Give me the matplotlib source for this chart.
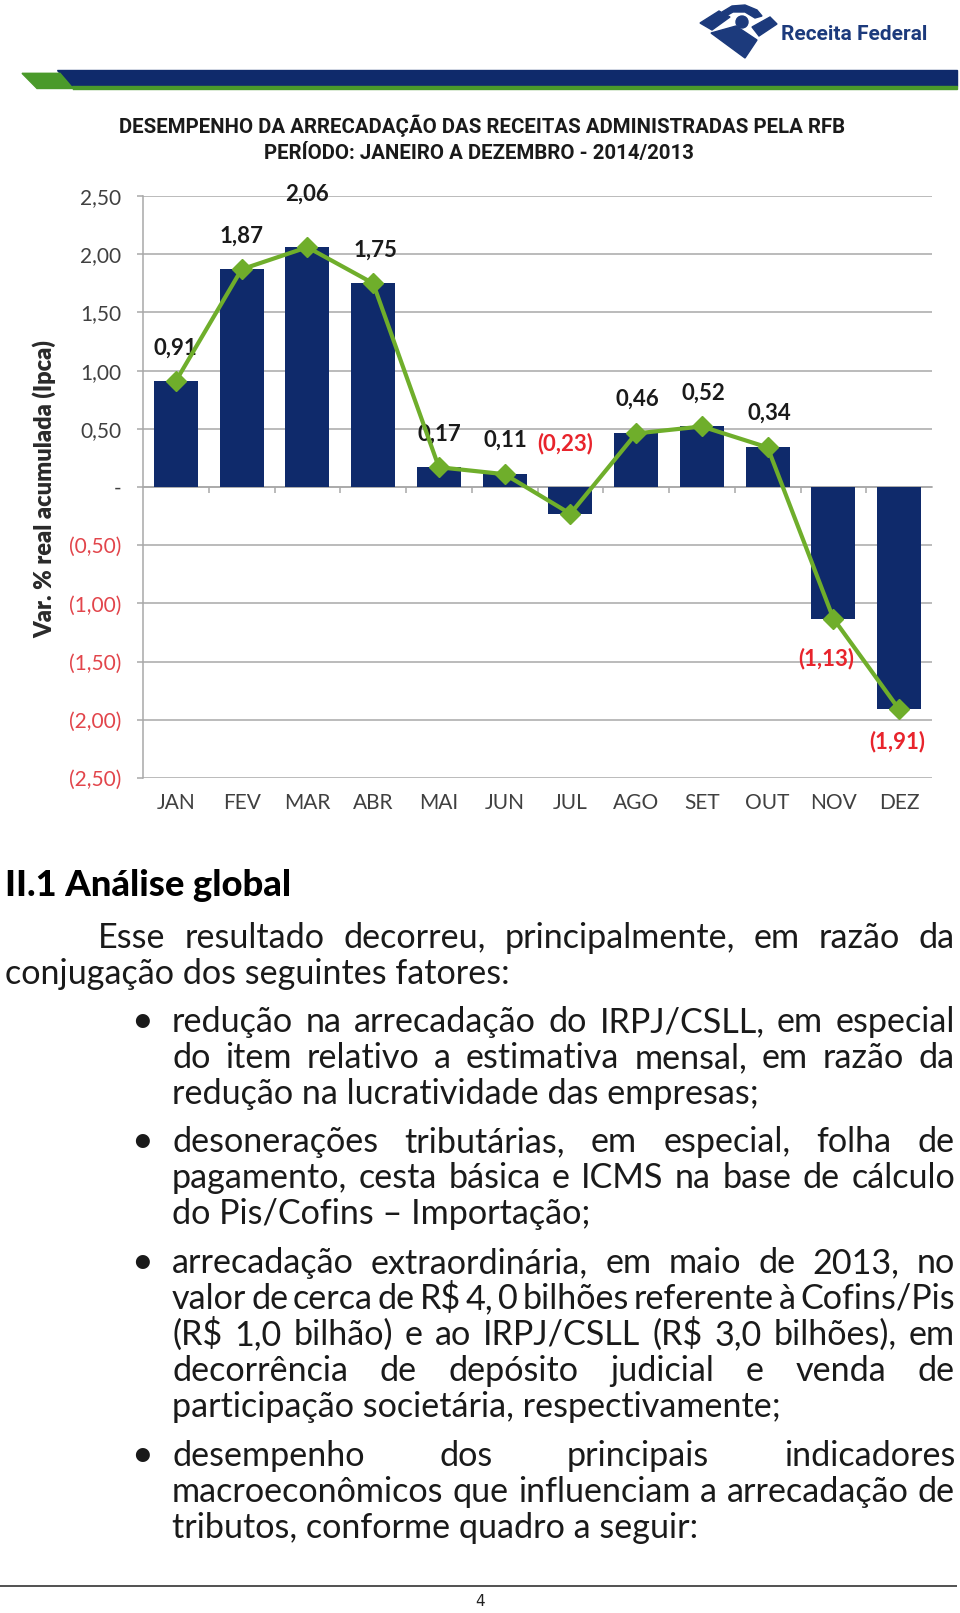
import matplotlib
matplotlib.use('Agg')
import matplotlib.pyplot as plt
from matplotlib.patches import Polygon, Circle

months = ['JAN', 'FEV', 'MAR', 'ABR', 'MAI', 'JUN', 'JUL', 'AGO', 'SET', 'OUT', 'NOV', 'DEZ']
var_real = [0.91, 1.87, 2.06, 1.75, 0.17, 0.11, -0.23, 0.46, 0.52, 0.34, -1.13, -1.91]
y_ticks = [-2.5, -2.0, -1.5, -1.0, -0.5, 0.0, 0.5, 1.0, 1.5, 2.0, 2.5]

title_lines = ['DESEMPENHO DA ARRECADAÇÃO DAS RECEITAS ADMINISTRADAS PELA RFB',
               'PERÍODO: JANEIRO A DEZEMBRO - 2014/2013']
y_title = 'Var. % real acumulada (Ipca)'
heading = 'II.1 Análise global'
intro = ['Esse resultado decorreu, principalmente, em razão da',
         'conjugação dos seguintes fatores:']
bullets = [
    ['redução na arrecadação do IRPJ/CSLL, em especial',
     'do item relativo a estimativa mensal, em razão  da',
     'redução na lucratividade das empresas;'],
    ['desonerações tributárias, em especial, folha de',
     'pagamento, cesta básica e ICMS na base de cálculo',
     'do Pis/Cofins – Importação;'],
    ['arrecadação extraordinária, em maio de 2013, no',
     'valor de cerca de R$ 4, 0 bilhões referente à Cofins/Pis',
     '(R$ 1,0 bilhão) e ao IRPJ/CSLL (R$ 3,0 bilhões), em',
     'decorrência de depósito judicial e venda de',
     'participação societária, respectivamente;'],
    ['desempenho dos principais indicadores',
     'macroeconômicos que influenciam a arrecadação de',
     'tributos, conforme quadro a seguir:'],
]

# label nudges in pixels (x, y up)
label_dx = [0, 0, 0, 2, 1, 1, -5, 1, 2, 2, -7, -2]
label_dy = [33, 33, 53, 33, 33, 34, 70, 34, 33, 34, -40, -32]

NAVY = '#0f2a6b'
GREEN = '#6fae2b'
RED = '#e8242c'
TICK_RED = '#e2454b'
GRID = '#a8a8a8'
TXT = '#404040'
CHART_FONT = ['Lato', 'DejaVu Sans']
BODY_FONT = ['Lato', 'DejaVu Sans']


def fmt(v):
    s = f'{abs(v):.2f}'.replace('.', ',')
    if v == 0:
        return '-'
    return f'({s})' if v < 0 else s


fig = plt.figure(figsize=(9.6, 16.13), dpi=100)
page = fig.add_axes([0, 0, 1, 1])
page.set_xlim(0, 960)
page.set_ylim(1613, 0)
page.axis('off')
rend = fig.canvas.get_renderer()


def text_w(t):
    return t.get_window_extent(renderer=rend).width


def fit(x, y, s, target, **kw):
    t = page.text(x, y, s, fontsize=20, **kw)
    t.set_fontsize(20 * target / text_w(t))
    return t


def justify(x0, x1, y, line, size, **kw):
    words = line.split()
    ts = [page.text(0, y, w, fontsize=size, va='baseline', **kw) for w in words]
    ws = [text_w(t) for t in ts]
    gap = (x1 - x0 - sum(ws)) / (len(words) - 1)
    x = x0
    for t, w in zip(ts, ws):
        t.set_x(x)
        x += w + gap


# header: logo + banner
for pts in [[(700, 23), (719, 11), (730, 17), (712, 30)],
            [(722, 12), (732, 6), (745, 5), (757, 10), (762, 16), (755, 18), (745, 12), (733, 12), (726, 16)],
            [(752, 27), (770, 17), (777, 24), (759, 36)],
            [(711, 33), (736, 26), (757, 40), (745, 58)]]:
    page.add_patch(Polygon(pts, closed=True, color='#1c3a7c'))
page.add_patch(Circle((742, 22), 6, color='#1c3a7c'))
fit(781, 34, 'Receita Federal', 146, family=['Roboto', 'DejaVu Sans'],
    fontweight='bold', color='#1c3a7c', va='center')

page.add_patch(Polygon([(57, 70), (957, 70), (957, 86), (72, 86)], color=NAVY))
page.add_patch(Polygon([(72, 86), (957, 86), (957, 88.5), (73, 88.5)], color='#4a9a2a'))
page.add_patch(Polygon([(22, 73.3), (60, 73.3), (73, 88.5), (37, 88.5)], color='#4a9a2a'))

# chart titles
t1 = fit(482, 125.5, title_lines[0], 725, family=['Roboto', 'DejaVu Sans'],
         fontweight='bold', color='#1a1a1a', ha='center', va='center')
page.text(479, 154, title_lines[1], fontsize=t1.get_fontsize(), family=['Roboto', 'DejaVu Sans'],
          fontweight='bold', color='#1a1a1a', ha='center', va='center')

# chart
ax = fig.add_axes([143 / 960, 1 - 778 / 1613, 789 / 960, 582 / 1613])
x = list(range(len(months)))
ax.bar(x, var_real, width=0.67, color=NAVY, zorder=3)
ax.plot(x, var_real, color=GREEN, lw=3, marker='D', ms=10.5, zorder=5)
for i, v in enumerate(var_real):
    ax.annotate(fmt(v), (i, v), xytext=(label_dx[i], label_dy[i]), textcoords='offset pixels',
                ha='center', va='center', fontsize=16, fontweight='bold', family=CHART_FONT,
                color=RED if v < 0 else '#1a1a1a', zorder=4)

ax.set_xlim(-0.5, len(months) - 0.5)
ax.set_ylim(y_ticks[0], y_ticks[-1])
ax.set_yticks(y_ticks, [fmt(v) for v in y_ticks])
for lab, v in zip(ax.get_yticklabels(), y_ticks):
    lab.set_color(TICK_RED if v < 0 else TXT)
    lab.set_family(CHART_FONT)
ax.set_xticks(x, months)
for lab in ax.get_xticklabels():
    lab.set_family(CHART_FONT)
ax.tick_params(axis='y', length=4.5, width=1.1, color=GRID, pad=11, labelsize=15)
ax.tick_params(axis='x', length=0, pad=11, labelsize=15, labelcolor=TXT)
ax.set_axisbelow(True)
ax.yaxis.grid(True, color=GRID, lw=1.1)
for side in ['top', 'right', 'bottom']:
    ax.spines[side].set_visible(False)
ax.spines['left'].set_color(GRID)
ax.spines['left'].set_linewidth(1.1)

zero_frac = (0 - y_ticks[0]) / (y_ticks[-1] - y_ticks[0])
sec = ax.secondary_xaxis(zero_frac)
sec.set_alignment('bottom')
sec.set_xticks([i + 0.5 for i in x[:-1]])
sec.tick_params(length=4.5, width=1.1, color=GRID, labelbottom=False, labeltop=False)
sec.spines['bottom'].set_color(GRID)
sec.spines['bottom'].set_linewidth(1.1)

yl = fit(44, 489, y_title, 298, family=CHART_FONT, fontweight='heavy', color='#2a2a2a',
         ha='center', va='center')
yl.set_rotation(90)

# text body
fit(5, 885, heading, 287, family=['Lato', 'DejaVu Sans'], fontweight='black', color='black',
    va='center')

probe = page.text(0, 0, bullets[0][2], fontsize=20, family=BODY_FONT)
body_size = 20 * 589 / text_w(probe)
probe.remove()
body = dict(family=BODY_FONT, color='#1a1a1a')

justify(98, 955, 947.5, intro[0], body_size, **body)
page.text(5, 983.5, intro[1], fontsize=body_size, va='baseline', **body)

first_baselines = [1032, 1152, 1273, 1466]
step = 36
for lines, y0 in zip(bullets, first_baselines):
    page.text(142, y0, '•', fontsize=body_size * 1.1, ha='center', va='baseline', **body)
    for k, line in enumerate(lines):
        y = y0 + k * step
        if k < len(lines) - 1:
            justify(172, 955, y, line, body_size, **body)
        else:
            page.text(172, y, line, fontsize=body_size, va='baseline', **body)

page.hlines(1586, 0, 957, color='#333333', lw=1.2)
page.text(480, 1602, '4', fontsize=11, ha='center', va='center',
          family=['DejaVu Sans'], color='#222222')

fig.savefig('out.png', dpi=100)
